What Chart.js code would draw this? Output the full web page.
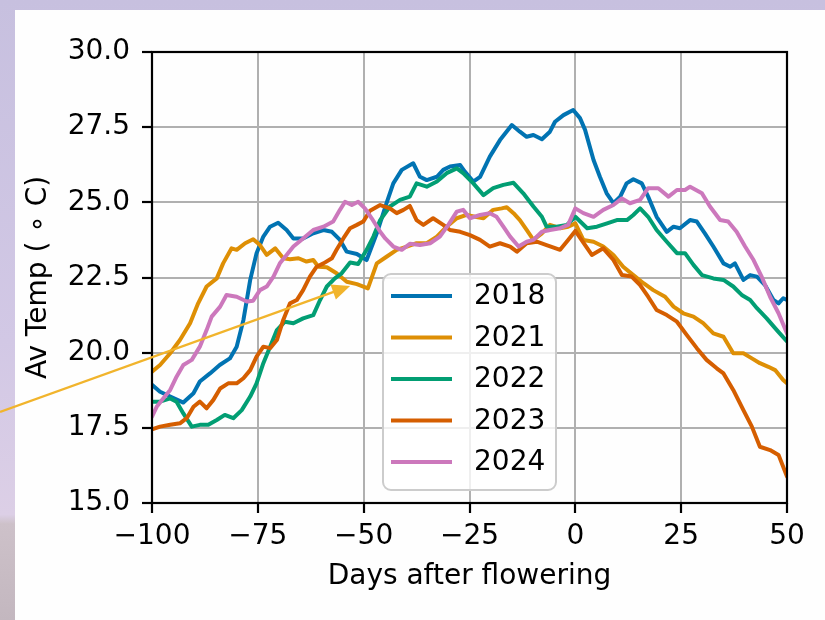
<!DOCTYPE html>
<html>
<head>
<meta charset="utf-8">
<script src="https://cdn.jsdelivr.net/npm/chart.js@4"></script>
<style>
  html, body { margin: 0; padding: 0; }
  body {
    width: 825px; height: 620px; overflow: hidden; position: relative;
    background: linear-gradient(to bottom, #c7c0df 0%, #d2c8e5 55%, #dccfe6 83%, #cdc1c9 84.5%, #c3b7bf 100%);
  }
  #panel { position: absolute; left: 15px; top: 10px; width: 810px; height: 610px; background: #fefefe; }
  #chart { position: absolute; left: 0; top: 0; }
</style>
</head>
<body>
<div id="panel"></div>
<canvas id="chart" width="825" height="620"></canvas>
<script>
// Running average temperature around flowering, one series per season
const years = ['2018', '2021', '2022', '2023', '2024'];
const colors = ['#0173b2', '#de8f05', '#029e73', '#d55e00', '#cc78bc'];

const days2018 = [-100, -98.1, -95.7, -92.6, -90.2, -88.7, -86.3, -84.0, -81.6, -80.0, -78.4, -76.8, -75.3, -73.7, -72.1, -70.2, -68.2, -66.6, -64.3, -61.9, -59.5, -57.5, -55.6, -54.0, -51.6, -49.3, -46.9, -44.6, -43.0, -41.0, -38.3, -36.7, -35.1, -32.7, -31.2, -29.6, -27.2, -26.1, -24.1, -22.5, -20.2, -17.8, -15.0, -13.1, -11.5, -9.9, -7.9, -6.0, -4.8, -2.8, -0.5, 1.1, 2.3, 4.3, 5.8, 7.4, 9.0, 10.6, 12.1, 13.7, 15.7, 17.2, 19.2, 21.6, 23.2, 24.7, 27.1, 28.7, 30.6, 32.6, 35.0, 36.6, 37.7, 39.7, 41.3, 42.9, 44.8, 46.8, 48.0, 49.1, 50];
const temp2018 = [18.93, 18.70, 18.54, 18.34, 18.65, 19.04, 19.31, 19.59, 19.81, 20.20, 21.09, 22.42, 23.31, 23.86, 24.19, 24.32, 24.08, 23.80, 23.80, 23.97, 24.08, 24.02, 23.75, 23.36, 23.28, 23.08, 23.97, 24.97, 25.63, 26.08, 26.30, 25.85, 25.74, 25.85, 26.08, 26.19, 26.24, 26.02, 25.69, 25.85, 26.52, 27.07, 27.57, 27.35, 27.18, 27.24, 27.10, 27.35, 27.68, 27.90, 28.07, 27.80, 27.41, 26.41, 25.85, 25.30, 24.97, 25.19, 25.63, 25.77, 25.63, 25.19, 24.52, 24.02, 24.19, 24.14, 24.41, 24.36, 23.97, 23.53, 22.97, 22.86, 22.97, 22.42, 22.58, 22.53, 22.25, 21.75, 21.64, 21.81, 21.75];

const days2021 = [-100, -98.1, -95.7, -93.4, -91.0, -89.1, -87.1, -84.7, -83.2, -81.2, -80.0, -78.0, -76.1, -74.5, -72.9, -70.9, -69.0, -67.4, -65.4, -63.5, -61.9, -60.7, -58.7, -56.4, -54.0, -51.6, -49.0, -46.9, -44.6, -42.2, -39.8, -37.5, -35.1, -32.7, -30.4, -28.0, -25.7, -23.7, -21.7, -19.4, -17.4, -16.2, -14.6, -13.1, -11.5, -9.9, -7.9, -6.0, -3.6, -1.7, 0, 1.9, 4.3, 6.6, 9.0, 11.3, 13.7, 16.1, 18.4, 21.2, 23.2, 25.5, 27.9, 30.2, 32.6, 35.0, 37.3, 39.7, 41.7, 43.6, 45.6, 47.2, 49.1, 50];
const temp2021 = [19.37, 19.59, 19.98, 20.42, 20.98, 21.64, 22.20, 22.47, 22.97, 23.47, 23.42, 23.64, 23.77, 23.58, 23.25, 23.47, 23.14, 23.11, 23.14, 23.03, 23.08, 22.86, 22.84, 22.64, 22.36, 22.28, 22.14, 22.97, 23.19, 23.42, 23.53, 23.64, 23.64, 23.86, 24.19, 24.47, 24.58, 24.52, 24.47, 24.75, 24.80, 24.84, 24.64, 24.41, 24.08, 23.75, 23.97, 24.25, 24.14, 24.19, 24.30, 23.75, 23.69, 23.53, 23.25, 22.86, 22.58, 22.31, 22.08, 21.86, 21.53, 21.31, 21.20, 20.98, 20.64, 20.53, 19.98, 19.98, 19.81, 19.65, 19.53, 19.42, 19.09, 18.98];

const days2022 = [-100, -98.1, -95.7, -94.2, -92.6, -90.6, -88.7, -86.7, -84.7, -82.8, -80.8, -78.8, -76.8, -75.3, -73.7, -72.1, -70.5, -68.6, -66.6, -64.3, -61.9, -60.3, -58.7, -56.8, -55.2, -53.2, -51.3, -49.3, -47.7, -46.1, -43.8, -41.4, -39.1, -37.5, -35.1, -32.7, -30.4, -28.0, -26.5, -24.1, -21.7, -19.4, -17.0, -14.6, -12.3, -9.9, -7.9, -6.8, -4.4, -2.0, 0, 2.8, 5.1, 7.5, 9.8, 12.2, 13.7, 15.3, 17.2, 19.2, 21.6, 24.0, 25.9, 27.9, 29.9, 32.6, 35.0, 37.3, 39.3, 41.3, 42.9, 45.2, 47.6, 50];
const temp2022 = [18.37, 18.37, 18.48, 18.37, 17.98, 17.54, 17.60, 17.60, 17.76, 17.93, 17.82, 18.09, 18.54, 18.98, 19.65, 20.20, 20.75, 21.03, 20.98, 21.14, 21.25, 21.75, 22.20, 22.47, 22.64, 23.00, 22.95, 23.42, 23.86, 24.41, 24.86, 25.08, 25.19, 25.63, 25.52, 25.69, 25.97, 26.13, 25.97, 25.63, 25.24, 25.47, 25.58, 25.65, 25.30, 24.86, 24.52, 24.19, 24.19, 24.25, 24.52, 24.14, 24.19, 24.30, 24.41, 24.41, 24.58, 24.80, 24.52, 24.08, 23.69, 23.31, 23.31, 22.92, 22.58, 22.47, 22.42, 22.20, 21.92, 21.75, 21.48, 21.14, 20.75, 20.37];

const days2023 = [-100, -98.1, -95.7, -93.4, -91.8, -90.2, -88.7, -87.1, -85.5, -83.9, -82.0, -80.0, -78.4, -76.8, -75.3, -73.7, -72.1, -70.5, -69.0, -67.4, -65.8, -64.3, -62.7, -61.1, -59.5, -57.5, -56.4, -54.8, -53.2, -51.6, -50.1, -48.5, -46.1, -43.8, -42.2, -40.6, -39.1, -37.5, -35.9, -33.6, -31.2, -29.6, -27.2, -24.9, -22.5, -20.2, -17.8, -15.4, -13.8, -11.5, -9.1, -6.8, -3.6, -1.7, 0, 1.9, 3.9, 6.6, 9.0, 11.0, 13.3, 15.3, 17.2, 19.2, 21.6, 24.0, 26.3, 28.7, 31.0, 33.4, 35.0, 37.3, 39.7, 41.7, 43.6, 46.0, 48.0, 50];
const temp2023 = [17.45, 17.54, 17.60, 17.65, 17.82, 18.20, 18.37, 18.15, 18.43, 18.81, 18.98, 18.98, 19.15, 19.42, 19.87, 20.20, 20.15, 20.42, 21.09, 21.64, 21.75, 22.08, 22.53, 22.86, 22.97, 23.14, 23.42, 23.80, 24.14, 24.25, 24.36, 24.72, 24.91, 24.80, 24.64, 24.75, 24.88, 24.41, 24.25, 24.47, 24.25, 24.08, 24.02, 23.91, 23.75, 23.53, 23.64, 23.53, 23.36, 23.64, 23.69, 23.58, 23.42, 23.75, 24.05, 23.66, 23.25, 23.47, 23.08, 22.58, 22.53, 22.25, 21.86, 21.42, 21.25, 21.03, 20.59, 20.15, 19.76, 19.48, 19.31, 18.76, 18.09, 17.54, 16.87, 16.76, 16.60, 15.88];

const days2024 = [-100, -98.9, -97.3, -95.7, -94.2, -92.6, -90.6, -88.7, -87.1, -85.9, -83.9, -82.4, -80.0, -77.6, -76.1, -74.5, -72.9, -71.3, -69.8, -68.2, -66.6, -64.3, -61.9, -59.5, -57.2, -55.6, -54.4, -52.8, -51.3, -49.7, -48.1, -46.1, -44.9, -43.0, -41.0, -39.1, -36.7, -34.3, -32.0, -30.0, -28.0, -26.5, -24.9, -22.5, -20.2, -18.6, -17.0, -15.4, -13.4, -11.5, -9.9, -7.9, -6.0, -3.6, -1.7, 0, 1.9, 4.3, 6.6, 9.0, 11.0, 12.9, 15.3, 17.2, 19.6, 22.0, 24.0, 25.9, 27.1, 29.9, 31.8, 34.2, 36.1, 38.1, 40.1, 42.1, 44.0, 46.0, 48.0, 50];
const temp2024 = [17.87, 18.20, 18.48, 18.76, 19.20, 19.59, 19.76, 20.20, 20.75, 21.20, 21.53, 21.92, 21.86, 21.70, 21.73, 22.08, 22.20, 22.53, 22.97, 23.25, 23.53, 23.80, 24.08, 24.19, 24.36, 24.75, 25.02, 24.91, 25.02, 24.80, 24.47, 24.02, 23.80, 23.53, 23.42, 23.62, 23.58, 23.64, 23.86, 24.25, 24.69, 24.75, 24.47, 24.58, 24.64, 24.52, 24.19, 23.86, 23.53, 23.69, 23.75, 24.02, 24.08, 24.14, 24.25, 24.80, 24.64, 24.52, 24.75, 24.91, 25.13, 24.97, 25.08, 25.47, 25.47, 25.19, 25.41, 25.41, 25.52, 25.30, 24.86, 24.41, 24.36, 24.02, 23.53, 23.08, 22.53, 21.86, 21.31, 20.64];

const xTicks = [-100, -75, -50, -25, 0, 25, 50];
const yTicks = [15.0, 17.5, 20.0, 22.5, 25.0, 27.5, 30.0];

// Annotation arrow, in data units (days, degrees)
const arrowFrom = { x: -135.9, y: 18.03 };
const arrowTo = { x: -53.2, y: 22.22 };

const seriesDays = [days2018, days2021, days2022, days2023, days2024];
const seriesTemps = [temp2018, temp2021, temp2022, temp2023, temp2024];

const FONT = 'DejaVu Sans';
const FONT_SIZE = 28;
const fmtTick = v => (v < 0 ? '\u2212' + Math.abs(v) : String(v));

// Closed black frame round the plotting area
const framePlugin = {
  id: 'frame',
  afterDatasetsDraw(chart) {
    const { ctx, chartArea: a } = chart;
    ctx.save();
    ctx.strokeStyle = '#000';
    ctx.lineWidth = 2.2;
    ctx.strokeRect(a.left, a.top, a.right - a.left, a.bottom - a.top);
    ctx.restore();
  }
};

// Boxed legend inside the axes
const boxLegend = {
  id: 'boxLegend',
  afterDraw(chart, args, opts) {
    const { ctx } = chart;
    const { left, top, width, height, radius, firstRow, rowGap, lineStart, lineEnd, textX } = opts;
    ctx.save();
    ctx.beginPath();
    ctx.moveTo(left + radius, top);
    ctx.arcTo(left + width, top, left + width, top + height, radius);
    ctx.arcTo(left + width, top + height, left, top + height, radius);
    ctx.arcTo(left, top + height, left, top, radius);
    ctx.arcTo(left, top, left + width, top, radius);
    ctx.closePath();
    ctx.fillStyle = 'rgba(255,255,255,0.8)';
    ctx.fill();
    ctx.strokeStyle = '#cccccc';
    ctx.lineWidth = 2;
    ctx.stroke();
    ctx.font = FONT_SIZE + 'px "' + FONT + '"';
    ctx.textBaseline = 'middle';
    ctx.textAlign = 'left';
    chart.data.datasets.forEach((ds, i) => {
      const y = firstRow + i * rowGap;
      ctx.strokeStyle = ds.borderColor;
      ctx.lineWidth = 4;
      ctx.beginPath();
      ctx.moveTo(lineStart, y);
      ctx.lineTo(lineEnd, y);
      ctx.stroke();
      ctx.fillStyle = '#000';
      ctx.fillText(ds.label, textX, y + 1);
    });
    ctx.restore();
  }
};

// Yellow pointer arrow
const pointerArrow = {
  id: 'pointerArrow',
  afterDraw(chart, args, opts) {
    const { ctx, scales: { x, y } } = chart;
    const x0 = x.getPixelForValue(opts.from.x), y0 = y.getPixelForValue(opts.from.y);
    const x1 = x.getPixelForValue(opts.to.x), y1 = y.getPixelForValue(opts.to.y);
    const len = Math.hypot(x1 - x0, y1 - y0);
    const ux = (x1 - x0) / len, uy = (y1 - y0) / len;
    const hl = 18, hw = 8;
    const bx = x1 - ux * hl, by = y1 - uy * hl;
    ctx.save();
    ctx.strokeStyle = opts.color;
    ctx.fillStyle = opts.color;
    ctx.lineWidth = 2.3;
    ctx.beginPath();
    ctx.moveTo(x0, y0);
    ctx.lineTo(bx + ux * 2, by + uy * 2);
    ctx.stroke();
    ctx.beginPath();
    ctx.moveTo(x1, y1);
    ctx.lineTo(bx - uy * hw, by + ux * hw);
    ctx.lineTo(bx + uy * hw, by - ux * hw);
    ctx.closePath();
    ctx.fill();
    ctx.restore();
  }
};

const tickFont = { family: FONT, size: FONT_SIZE };

new Chart(document.getElementById('chart'), {
  type: 'line',
  data: {
    datasets: years.map((yr, i) => ({
      label: yr,
      data: seriesDays[i].map((d, k) => ({ x: d, y: seriesTemps[i][k] })),
      borderColor: colors[i],
      backgroundColor: colors[i],
      borderWidth: 4,
      pointRadius: 0,
      tension: 0,
      fill: false,
      borderJoinStyle: 'round',
      borderCapStyle: 'round',
      order: years.length - 1 - i
    }))
  },
  options: {
    responsive: false,
    animation: false,
    devicePixelRatio: 1,
    layout: { padding: { left: 0, top: 52, right: 38, bottom: 0 } },
    plugins: {
      legend: { display: false },
      tooltip: { enabled: false },
      boxLegend: { left: 383, top: 274, width: 173, height: 216, radius: 8, firstRow: 296, rowGap: 41.5, lineStart: 391, lineEnd: 452, textX: 474 },
      pointerArrow: { from: arrowFrom, to: arrowTo, color: '#f1b42c' }
    },
    scales: {
      x: {
        type: 'linear',
        min: xTicks[0],
        max: xTicks[xTicks.length - 1],
        afterFit(s) { s.height = 117; },
        afterBuildTicks(s) { s.ticks = xTicks.map(v => ({ value: v })); },
        ticks: { color: '#000', font: tickFont, padding: 7, maxRotation: 0, autoSkip: false, callback: v => fmtTick(v) },
        grid: { color: '#b0b0b0', lineWidth: 2, drawTicks: true, tickLength: 10, tickColor: '#000', tickWidth: 2.2 },
        border: { display: false },
        title: { display: true, text: 'Days after flowering', color: '#000', font: tickFont, padding: { top: 0, bottom: 26 } }
      },
      y: {
        type: 'linear',
        min: yTicks[0],
        max: yTicks[yTicks.length - 1],
        afterFit(s) { s.width = 152; },
        afterBuildTicks(s) { s.ticks = yTicks.map(v => ({ value: v })); },
        ticks: { color: '#000', font: tickFont, padding: 12, autoSkip: false, callback: v => v.toFixed(1) },
        grid: { color: '#b0b0b0', lineWidth: 2, drawTicks: true, tickLength: 10, tickColor: '#000', tickWidth: 2.2 },
        border: { display: false },
        title: { display: true, text: 'Av Temp ( \u2218 C)', color: '#000', font: tickFont, padding: { top: 22, bottom: 0 } }
      }
    }
  },
  plugins: [framePlugin, boxLegend, pointerArrow]
});
</script>
</body>
</html>
